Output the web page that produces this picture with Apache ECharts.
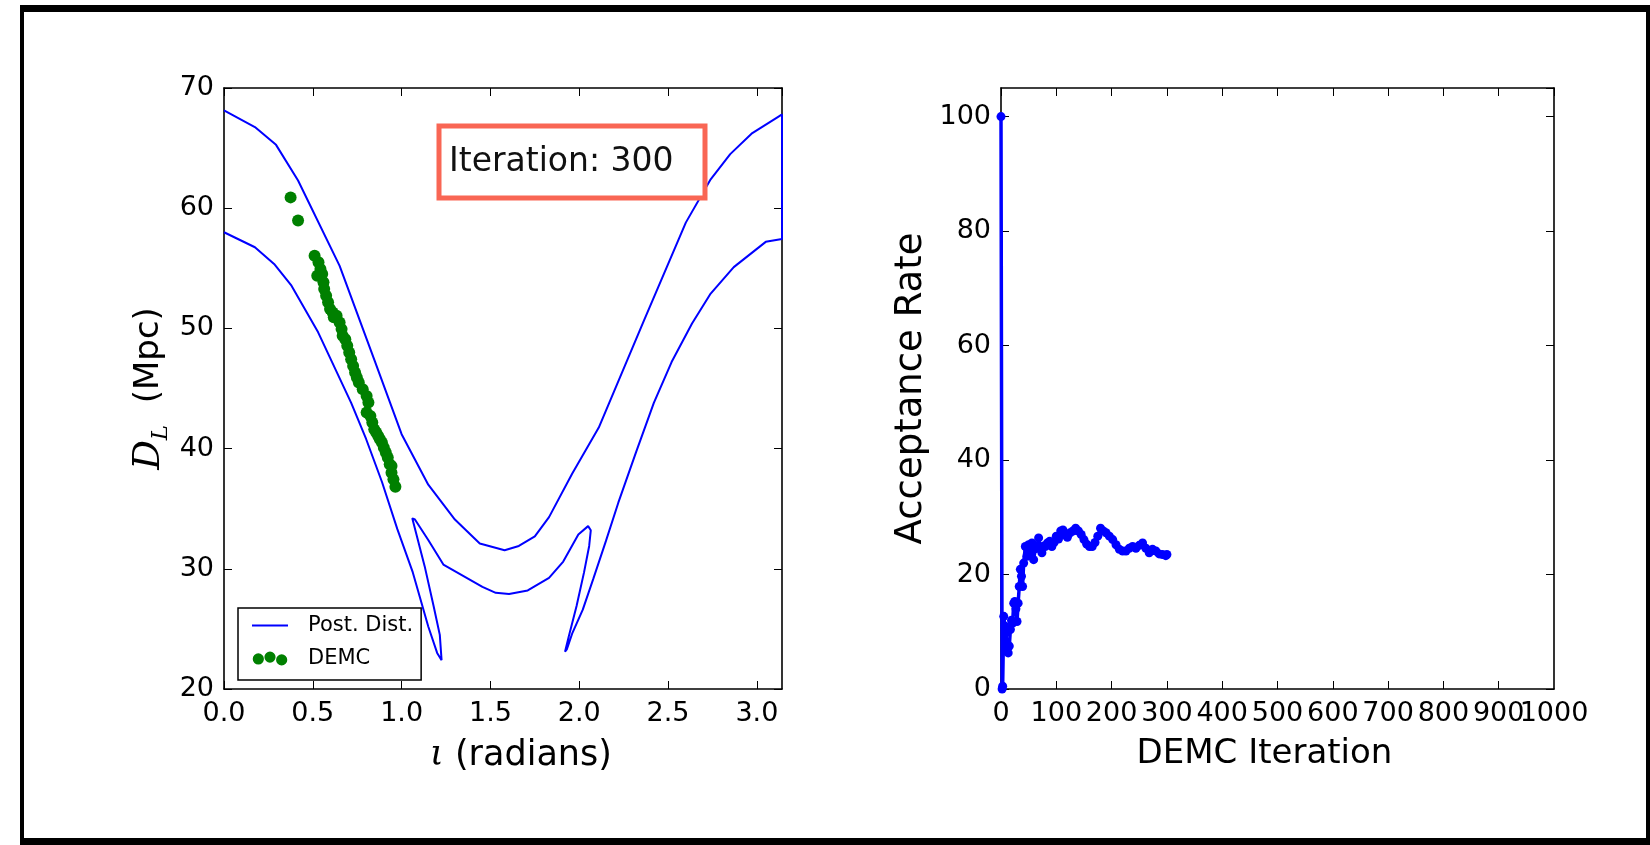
<!DOCTYPE html>
<html>
<head>
<meta charset="utf-8">
<script src="https://cdn.jsdelivr.net/npm/echarts@6/dist/echarts.min.js"></script>
<style>
html,body{margin:0;padding:0;background:#fff;}
#chart{width:1650px;height:845px;}
</style>
</head>
<body>
<div id="chart"></div>
<script>
// ---------- Data ----------
// Posterior distribution contour (iota in radians, D_L in Mpc), drawn in path order
const postX = [0,0.174,0.293,0.417,0.651,0.846,1.0,1.15,1.30,1.44,1.58,1.66,1.75,1.83,1.96,2.11,2.36,2.60,2.74,2.85,2.97,3.12,3.1416,
  3.1416,
  3.05,2.87,2.74,2.635,2.52,2.42,2.32,2.22,2.15,2.08,2.02,1.96,1.93,1.92,
  1.94,1.985,2.027,2.056,2.065,2.05,
  1.995,1.91,1.83,1.71,1.605,1.53,1.455,1.235,1.15,1.075,1.06,
  1.13,1.18,1.215,1.225,
  1.20,1.15,1.063,0.976,0.89,0.80,0.716,0.53,0.38,0.282,0.174,0];
const postY = [68.13,66.75,65.27,62.3,55.2,47.4,41.2,37.0,34.1,32.1,31.55,31.9,32.7,34.3,37.9,41.75,50.5,58.8,62.4,64.5,66.2,67.6,67.8,
  57.44,
  57.2,55.1,52.9,50.4,47.2,43.8,39.7,35.5,32.3,29.2,26.6,24.6,23.3,23.1,
  24.3,26.9,29.7,31.9,33.2,33.55,
  32.85,30.6,29.25,28.2,27.9,28.0,28.5,30.35,32.4,34.1,34.2,
  30.2,26.9,24.5,22.4,
  23.0,25.2,29.7,33.3,37.2,40.8,43.8,49.67,53.55,55.36,56.75,58.0];

// DEMC chain positions
const demcX = [0.375,0.417,0.51,0.532,0.543,0.553,0.525,0.56,0.564,0.575,0.586,0.597,0.612,0.618,0.634,0.651,0.662,0.668,0.683,0.694,0.705,0.716,0.727,0.738,0.748,0.759,0.781,0.803,0.813,0.803,0.824,0.835,0.846,0.857,0.868,0.878,0.889,0.90,0.911,0.922,0.933,0.943,0.943,0.954,0.965];
const demcY = [60.9,58.97,56.05,55.5,54.94,54.53,54.38,53.83,53.28,52.72,52.17,51.61,51.33,50.92,51.05,50.5,49.94,49.38,49.1,48.55,48.0,47.44,46.88,46.33,45.92,45.5,44.94,44.38,43.83,43.0,42.72,42.17,41.6,41.33,41.05,40.78,40.5,40.08,39.67,39.25,38.7,38.55,38.0,37.44,36.83];

// Acceptance rate vs DEMC iteration
const iterX = [0,2,3,5,7,9,11,13,15,17,19,21,23,25,27,29,31,33,35,37,39,41,44,47,50,53,56,59,62,65,68,71,74,77,80,84,88,92,96,100,104,108,112,116,120,125,130,135,140,145,150,155,160,165,170,175,180,185,190,196,202,208,214,220,226,232,238,244,250,256,262,268,274,280,286,292,298,300];
const rateY = [100,0,0.5,12.7,11,9.8,7,6.3,7.5,10.4,12,11.5,15,15.3,14,11.8,15,17.9,20.9,19.7,17.9,22,24.9,23.2,25.2,23.8,25.5,22.6,24.5,24.9,26.4,24.5,23.8,25,24.9,25.5,25.8,24.9,25.6,26.7,26.2,27.6,27.8,26.9,26.5,27.3,27.6,28.1,27.6,27.0,26.1,25.3,24.9,24.9,25.6,26.7,28.1,27.6,27.3,26.7,26.1,25.2,24.4,24.1,24.1,24.6,24.9,24.6,25.1,25.5,24.6,23.8,24.4,24.1,23.6,23.5,23.3,23.5];

const annotationText = 'Iteration: 300';

// ---------- Helpers ----------
const zip = (a, b) => a.map((v, i) => [v, b[i]]);
const FONT = 'DejaVu Sans';

function axisBase(extra) {
  return Object.assign({
    type: 'value',
    axisLine: {show: true, onZero: false, lineStyle: {color: '#000', width: 1.6}},
    axisTick: {show: true, inside: true, length: 8, lineStyle: {color: '#000', width: 1}},
    splitLine: {show: false},
    nameTextStyle: {fontFamily: FONT, color: '#000'}
  }, extra);
}
function mirror(base, position) {
  return Object.assign({}, base, {
    position: position, name: '', axisLabel: {show: false}
  });
}

const xLeft = axisBase({
  gridIndex: 0, min: 0, max: Math.PI, interval: 0.5, position: 'bottom',
  axisLabel: {fontFamily: FONT, fontSize: 27, color: '#000', margin: 11, showMaxLabel: false,
    formatter: v => v.toFixed(1)},
  name: '{iota|ι} (radians)', nameLocation: 'middle', nameGap: 46,
  nameTextStyle: {fontFamily: FONT, fontSize: 35, color: '#000', padding: [0, 0, 0, 36], lineHeight: 42,
    rich: {iota: {fontFamily: 'DejaVu Serif', fontStyle: 'italic', fontSize: 35, lineHeight: 42, color: '#000'}}}
});
const yLeft = axisBase({
  gridIndex: 0, min: 20, max: 70, interval: 10, position: 'left',
  axisLabel: {fontFamily: FONT, fontSize: 27, color: '#000', margin: 10},
  name: '{it|D}{sub|L}  (Mpc)', nameLocation: 'middle', nameGap: 54,
  nameTextStyle: {fontFamily: FONT, fontSize: 34, color: '#000', lineHeight: 42,
    rich: {
      it: {fontFamily: 'DejaVu Serif', fontStyle: 'italic', fontSize: 37, lineHeight: 42, color: '#000'},
      sub: {fontFamily: 'DejaVu Serif', fontStyle: 'italic', fontSize: 23, lineHeight: 42, verticalAlign: 'bottom', color: '#000', padding: [0, 0, -3, 0]}
    }}
});
const xRight = axisBase({
  gridIndex: 1, min: 0, max: 1000, interval: 100, position: 'bottom',
  axisLabel: {fontFamily: FONT, fontSize: 27, color: '#000', margin: 11, showMaxLabel: false, showMinLabel: true,
    formatter: v => String(v)},
  name: 'DEMC Iteration', nameLocation: 'middle', nameGap: 48,
  nameTextStyle: {fontFamily: FONT, fontSize: 34, color: '#000', padding: [0, 26, 0, 0]}
});
// label-only overlay axis carrying the final "1000" label (kept separate so "900" is not hidden)
const xRightEnd = {
  type: 'value', gridIndex: 1, min: 0, max: 1000, interval: 100, position: 'bottom',
  axisLine: {show: false}, axisTick: {show: false}, splitLine: {show: false},
  axisLabel: {fontFamily: FONT, fontSize: 27, color: '#000', margin: 11, showMaxLabel: true, showMinLabel: false,
    formatter: v => (v === 1000 ? '1000' : '')}
};
const yRight = axisBase({
  gridIndex: 1, min: 0, max: 105, interval: 20, position: 'left',
  axisLabel: {fontFamily: FONT, fontSize: 27, color: '#000', margin: 10, showMaxLabel: false},
  name: 'Acceptance Rate', nameLocation: 'middle', nameGap: 71,
  nameTextStyle: {fontFamily: FONT, fontSize: 37, color: '#000'}
});

const chart = echarts.init(document.getElementById('chart'), null, {renderer: 'canvas'});
chart.setOption({
  backgroundColor: '#fff',
  animation: false,
  grid: [
    {left: 224, top: 88, width: 558, height: 601, containLabel: false, outerBoundsMode: 'none'},
    {left: 1001, top: 88, width: 553, height: 601, containLabel: false, outerBoundsMode: 'none'}
  ],
  xAxis: [xLeft, xRight, mirror(xLeft, 'top'), mirror(xRight, 'top'), xRightEnd],
  yAxis: [yLeft, yRight, mirror(yLeft, 'right'), mirror(yRight, 'right')],
  legend: {
    orient: 'vertical', left: 238, top: 608,
    backgroundColor: '#fff', borderColor: '#000', borderWidth: 1.5, borderRadius: 0,
    padding: [7, 8, 11, 14], itemWidth: 36, itemHeight: 14, itemGap: 12,
    textStyle: {fontFamily: FONT, fontSize: 21, color: '#000', padding: [0, 0, 0, 15]},
    data: [
      {name: 'Post. Dist.', icon: 'path://M0,0L40,0L40,2L0,2Z'},
      {name: 'DEMC', icon: 'path://M0,7.5a6,6 0 1,0 12,0a6,6 0 1,0 -12,0Z M12.5,5.5a6,6 0 1,0 12,0a6,6 0 1,0 -12,0Z M25,8.5a6,6 0 1,0 12,0a6,6 0 1,0 -12,0Z'}
    ],
    selectedMode: false
  },
  series: [
    {
      name: 'Post. Dist.', type: 'line', xAxisIndex: 0, yAxisIndex: 0,
      data: zip(postX, postY), symbol: 'none', clip: false,
      lineStyle: {color: '#0000ff', width: 2}, itemStyle: {color: '#0000ff'}, z: 2
    },
    {
      name: 'DEMC', type: 'scatter', xAxisIndex: 0, yAxisIndex: 0,
      data: zip(demcX, demcY), symbol: 'circle', symbolSize: 12,
      itemStyle: {color: '#008000', opacity: 1}, z: 3
    },
    {
      name: 'Acceptance', type: 'line', xAxisIndex: 1, yAxisIndex: 1,
      data: zip(iterX, rateY), symbol: 'circle', symbolSize: 9, showSymbol: true,
      lineStyle: {color: '#0000ff', width: 3.5}, itemStyle: {color: '#0000ff'}, z: 2
    }
  ],
  graphic: [
    {type: 'rect', shape: {x: 439, y: 126, width: 266, height: 72},
      style: {fill: '#fff', stroke: '#f96654', lineWidth: 5}, z: 100},
    {type: 'text', x: 449, y: 162, z: 101,
      style: {text: annotationText, font: '33px "DejaVu Sans"', fill: '#111', textVerticalAlign: 'middle', verticalAlign: 'middle'}},
    // outer frame
    {type: 'rect', shape: {x: 20, y: 5, width: 1630, height: 7}, style: {fill: '#000'}, z: 200},
    {type: 'rect', shape: {x: 20, y: 838, width: 1630, height: 7}, style: {fill: '#000'}, z: 200},
    {type: 'rect', shape: {x: 20, y: 5, width: 4, height: 840}, style: {fill: '#000'}, z: 200},
    {type: 'rect', shape: {x: 1646, y: 5, width: 4, height: 840}, style: {fill: '#000'}, z: 200}
  ]
});
</script>
</body>
</html>
